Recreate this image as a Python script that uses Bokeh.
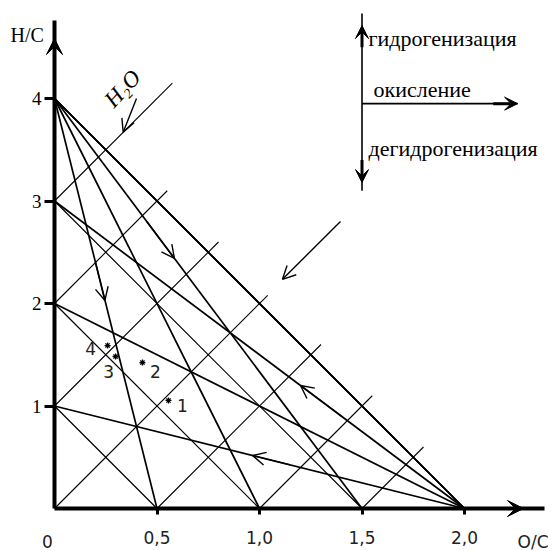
from bokeh.plotting import figure
from bokeh.models import Range1d, FixedTicker, Arrow, VeeHead, OpenHead, Label, ColumnDataSource
from bokeh.embed import file_html
from bokeh.resources import INLINE

# ---------------- data (O/C on x, H/C on y) ----------------
ch4_oc, ch4_hc = 0.0, 4.0                       # fan origin (CH4)
fan_ch4_end_oc = [0.5, 1.0, 1.5, 2.0]          # fan from CH4 down to H/C = 0
co2_oc, co2_hc = 2.0, 0.0                       # fan origin (CO2)
fan_co2_end_hc = [1.0, 2.0, 3.0, 4.0]           # fan from CO2 to O/C = 0
iso_start_hc = [1.0, 2.0, 3.0, 4.0]             # lines H/C + 2*O/C = const
dehyd_start_oc = [0.0, 0.0, 0.0, 0.0, 0.5, 1.0, 1.5]   # lines of slope +2 (water loss)
dehyd_start_hc = [3.0, 2.0, 1.0, 0.0, 0.0, 0.0, 0.0]
dehyd_end_oc = [0.575, 0.55, 0.80, 1.04, 1.30, 1.55, 1.80]
point_oc = [0.556, 0.429, 0.298, 0.259]
point_hc = [1.054, 1.424, 1.483, 1.590]
point_names = ["1", "2", "3", "4"]
x_ticks = [0.5, 1.0, 1.5, 2.0]
x_tick_labels = ["0,5", "1,0", "1,5", "2,0"]
y_ticks = [1, 2, 3, 4]
y_tick_labels = ["1", "2", "3", "4"]

# ---------------- figure ----------------
XS, YS = 205.0, 102.5   # px per unit
W, H = 552, 551
OX, OY = 54, 508        # origin position in the picture
p = figure(width=W, height=H, output_backend="svg", toolbar_location=None,
           x_range=Range1d(-OX / XS, (W - OX) / XS),
           y_range=Range1d(-(H - OY) / YS, OY / YS),
           min_border=0)
p.grid.visible = False
p.outline_line_color = None
p.background_fill_color = "white"
p.border_fill_color = "white"

serif = "Liberation Serif"
sans = "DejaVu Sans"

# x axis (through the origin)
xa = p.xaxis[0]
xa.fixed_location = 0
xa.ticker = FixedTicker(ticks=x_ticks)
xa.major_label_overrides = {t: l for t, l in zip(x_ticks, x_tick_labels)}
xa.bounds = (0, 2.39)
xa.axis_line_width = 4
xa.axis_line_color = "black"
xa.major_tick_line_width = 3
xa.major_tick_out = 6
xa.major_tick_in = 0
xa.minor_tick_line_color = None
xa.major_label_standoff = 16
xa.major_label_text_font = sans
xa.major_label_text_font_size = "17px"
xa.major_label_text_color = "#222222"

# y axis (through the origin)
ya = p.yaxis[0]
ya.fixed_location = 0
ya.ticker = FixedTicker(ticks=y_ticks)
ya.major_label_overrides = {t: l for t, l in zip(y_ticks, y_tick_labels)}
ya.bounds = (0, 4.76)
ya.axis_line_width = 4
ya.axis_line_color = "black"
ya.major_tick_line_width = 3
ya.major_tick_out = 10
ya.major_tick_in = 0
ya.minor_tick_line_color = None
ya.major_label_standoff = 3
ya.major_label_text_font = serif
ya.major_label_text_font_size = "19px"
ya.major_label_text_color = "black"

# ---------------- lines ----------------
# fan from CH4
p.segment(x0=[ch4_oc] * len(fan_ch4_end_oc), y0=[ch4_hc] * len(fan_ch4_end_oc),
          x1=fan_ch4_end_oc, y1=[0.0] * len(fan_ch4_end_oc),
          line_color="black", line_width=1.7)
# fan from CO2
p.segment(x0=[co2_oc] * len(fan_co2_end_hc), y0=[co2_hc] * len(fan_co2_end_hc),
          x1=[0.0] * len(fan_co2_end_hc), y1=fan_co2_end_hc,
          line_color="black", line_width=1.7)
# iso lines, slope -2
p.segment(x0=[0.0] * len(iso_start_hc), y0=iso_start_hc,
          x1=[h / 2 for h in iso_start_hc], y1=[0.0] * len(iso_start_hc),
          line_color="black", line_width=1.2)
# dehydration lines, slope +2
dehyd_end_hc = [h + 2 * (e - s) for s, h, e in zip(dehyd_start_oc, dehyd_start_hc, dehyd_end_oc)]
p.segment(x0=dehyd_start_oc, y0=dehyd_start_hc, x1=dehyd_end_oc, y1=dehyd_end_hc,
          line_color="black", line_width=1.1)

# ---------------- arrows on lines ----------------
def head_arrow(xs, ys, xe, ye, size=13, lw=1.4):
    p.add_layout(Arrow(end=OpenHead(size=size, line_width=lw, line_color="black"),
                       x_start=xs, y_start=ys, x_end=xe, y_end=ye,
                       line_width=lw, line_color="black"))

head_arrow(0.40, 4.0, 0.335, 3.67)          # H2O arrow on slope +2 line
head_arrow(0.20, 2.40, 0.246, 2.03)         # CH4 -> 0.5
head_arrow(0.45, 2.80, 0.585, 2.44)         # CH4 -> 1.5
head_arrow(1.40, 0.90, 1.20, 1.20)          # CO2 -> 3
head_arrow(1.15, 0.425, 0.966, 0.517)       # CO2 -> 1
head_arrow(1.395, 2.80, 1.112, 2.236)       # free dehydration arrow

# ---------------- points ----------------
src = ColumnDataSource(dict(x=point_oc, y=point_hc, name=point_names))
p.scatter("x", "y", source=src, marker="asterisk", size=6, line_color="black", line_width=1.3)
label_dx = [14, 13, -7, -17]
label_dy = [5, 9, 15, 3]
for xx, yy, nm, dx, dy in zip(point_oc, point_hc, point_names, label_dx, label_dy):
    p.add_layout(Label(x=xx, y=yy, text=nm, x_offset=dx, y_offset=-dy,
                       text_align="center", text_baseline="middle",
                       text_font=sans, text_font_size="17px", text_color="#222222"))

# H2O label
p.add_layout(Label(x=0.263, y=3.95, text="H₂O", angle=0.82, text_font=serif,
                   text_font_style="italic", text_font_size="23px", text_color="black",
                   text_baseline="middle"))

# ---------------- axis arrows & labels ----------------
p.add_layout(Arrow(end=VeeHead(size=16, fill_color="black", line_color="black"),
                   x_start=2.20, y_start=0, x_end=2.288, y_end=0, line_width=3, line_color="black"))
p.add_layout(Arrow(end=VeeHead(size=16, fill_color="black", line_color="black"),
                   x_start=0, y_start=4.45, x_end=0, y_end=4.585, line_width=3, line_color="black"))
p.add_layout(Label(x=-0.2146, y=4.615, text="H/C", text_font=serif, text_font_size="20px",
                   text_color="black", text_baseline="middle"))
p.add_layout(Label(x=2.259, y=-0.322, text="O/C", text_font=sans, text_font_size="17px",
                   text_color="#222222", text_baseline="middle"))
p.add_layout(Label(x=-0.034, y=-0.322, text="0", text_font=sans, text_font_size="17px",
                   text_color="#222222", text_align="center", text_baseline="middle"))

# ---------------- direction legend ----------------
leg_x = 1.5
p.segment(x0=[leg_x], y0=[3.10], x1=[leg_x], y1=[4.83], line_color="black", line_width=1.6)
p.segment(x0=[leg_x], y0=[3.95], x1=[2.259], y1=[3.95], line_color="black", line_width=1.6)
p.add_layout(Arrow(end=VeeHead(size=13, fill_color="black", line_color="black"),
                   x_start=leg_x, y_start=4.50, x_end=leg_x, y_end=4.712, line_width=3, line_color="black"))
p.add_layout(Arrow(end=VeeHead(size=13, fill_color="black", line_color="black"),
                   x_start=leg_x, y_start=3.40, x_end=leg_x, y_end=3.18, line_width=3, line_color="black"))
p.add_layout(Arrow(end=VeeHead(size=13, fill_color="black", line_color="black"),
                   x_start=2.14, y_start=3.95, x_end=2.259, y_end=3.95, line_width=3, line_color="black"))
p.add_layout(Label(x=1.532, y=4.585, text="гидрогенизация", text_font=serif,
                   text_font_size="22px", text_color="black", text_baseline="middle"))
p.add_layout(Label(x=1.556, y=4.088, text="окисление", text_font=serif,
                   text_font_size="22px", text_color="black", text_baseline="middle"))
p.add_layout(Label(x=1.532, y=3.512, text="дегидрогенизация", text_font=serif,
                   text_font_size="22px", text_color="black", text_baseline="middle"))

open("out.html", "w").write(file_html(p, INLINE))
